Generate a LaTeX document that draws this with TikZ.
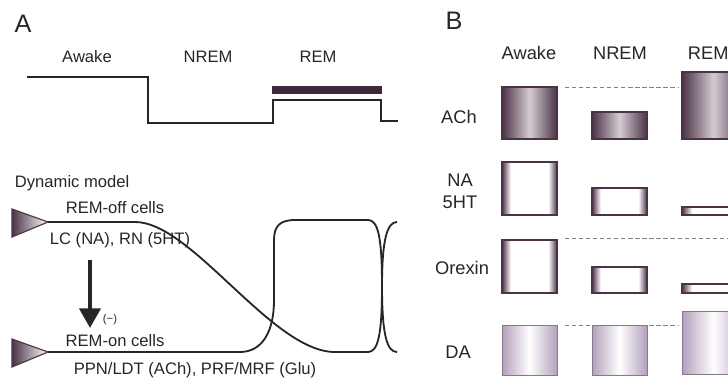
\documentclass[tikz,border=0pt]{standalone}
\usepackage{fontspec}
\setmainfont{Liberation Sans}
\usetikzlibrary{arrows.meta}

\definecolor{plum}{HTML}{4B3347}
\definecolor{lilac}{HTML}{B3A0BC}
\definecolor{inkgray}{HTML}{262626}
\pgfdeclarehorizontalshading{rimshade}{100bp}{color(0bp)=(plum); color(25bp)=(plum);
  color(33bp)=(white); color(67bp)=(white); color(75bp)=(plum); color(100bp)=(plum)}

\tikzset{
  panel/.style={font=\fontsize{18}{20}\selectfont, text=inkgray},
  lbl/.style={font=\fontsize{11.8}{13}\selectfont, text=inkgray},
  hdr/.style={font=\fontsize{13}{15}\selectfont, text=inkgray},
  trace/.style={line width=1.3pt, draw=inkgray},
  cellmark/.style={draw=plum, line width=0.8pt, left color=plum, right color=white},
  achbar/.style={draw=plum, line width=1.5pt, left color=plum, right color=plum, middle color=plum!25},
  rimbar/.style={draw=plum, line width=1.5pt, shading=rimshade},
  dabar/.style={draw=lilac!75!black, line width=0.6pt, left color=lilac, right color=lilac, middle color=white},
  refline/.style={densely dashed, draw=gray, line width=0.5pt}
}

\begin{document}
\begin{tikzpicture}[x=0.025cm, y=-0.025cm]
  \useasboundingbox (0,0) rectangle (728,379);
  \clip (0,0) rectangle (728,379);

  % panel A: hypnogram
  \node[panel] (pa) at (23,24) {A};
  \node[lbl] (awk) at (87,57) {Awake};
  \node[lbl] (nrem) at (208,57) {NREM};
  \node[lbl] (rem) at (318,57) {REM};
  \draw[inkgray, line width=1.4pt] (27,77) -- (148,77) -- (148,123) -- (273,123) -- (273,100)
    -- (381,100) -- (381,121) -- (398,121);
  \draw[plum!80!black, line width=5pt] (272,90) -- (382,90);

  % panel A: dynamic model
  \node[lbl, anchor=west] (dyn) at (10,183) {Dynamic model};
  \coordinate (offtip) at (48,222);
  \coordinate (ontip) at (48,352);
  \draw[cellmark] (12,209) -- (offtip) -- (12,237) -- cycle;
  \draw[cellmark] (12,339) -- (ontip) -- (12,367) -- cycle;
  \node[lbl] (offlbl) at (115,208) {REM-off cells};
  \node[lbl] (offsys) at (120,240) {LC (NA), RN (5HT)};
  \node[lbl] (onlbl) at (115,341) {REM-on cells};
  \node[lbl] (onsys) at (195,370) {PPN/LDT (ACh), PRF/MRF (Glu)};
  \coordinate (inhtop) at (90,260);
  \coordinate (inhbot) at (90,328);
  \draw[inkgray, line width=2.8pt, -{Triangle[width=15pt, length=14pt]}] (inhtop) -- (inhbot);
  \node[font=\fontsize{8}{9}\selectfont, text=inkgray] (inhsign) at (110,320) {(−)};

  \draw[trace] (offtip) -- (135,222) .. controls (192,222) and (272,352) .. (335,352) -- (368,352)
    .. controls (378,352) and (382,335) .. (382,286) .. controls (382,240) and (387,222) .. (397,222);
  \draw[trace] (ontip) -- (240,352) .. controls (262,352) and (274,332) .. (274,300) -- (274,240)
    .. controls (274,226) and (280,220) .. (295,220) -- (368,220)
    .. controls (378,220) and (382,237) .. (382,286) .. controls (382,335) and (387,352) .. (397,352);

  % panel B: levels
  \node[panel] (pb) at (454,21) {B};
  \node[hdr] (hawk) at (529,53) {Awake};
  \node[hdr] (hnrem) at (620,53) {NREM};
  \node[hdr, anchor=west] (hrem) at (683,53) {REM};
  \node[hdr] (ach) at (459,117) {ACh};
  \node[hdr] (na) at (460,180) {NA};
  \node[hdr] (sht) at (460,202) {5HT};
  \node[hdr] (orx) at (462,268) {Orexin};
  \node[hdr] (da) at (458,352) {DA};

  \draw[refline] (565,87) -- (678,87);
  \draw[refline] (565,238) -- (728,238);
  \draw[refline] (565,325) -- (678,325);

  \draw[achbar] (502,87) rectangle (557,139);
  \draw[achbar] (592,112) rectangle (647,139);
  \draw[achbar] (682,72) rectangle (745,139);

  \draw[rimbar] (502,162) rectangle (557,215);
  \draw[rimbar] (592,188) rectangle (647,215);
  \draw[rimbar] (682,207) rectangle (745,215);

  \draw[rimbar] (502,240) rectangle (557,293);
  \draw[rimbar] (592,267) rectangle (647,293);
  \draw[rimbar] (682,284) rectangle (745,293);

  \draw[dabar] (502,325) rectangle (557,375);
  \draw[dabar] (592,325) rectangle (647,375);
  \draw[dabar] (682,311) rectangle (745,374);
\end{tikzpicture}
\end{document}
